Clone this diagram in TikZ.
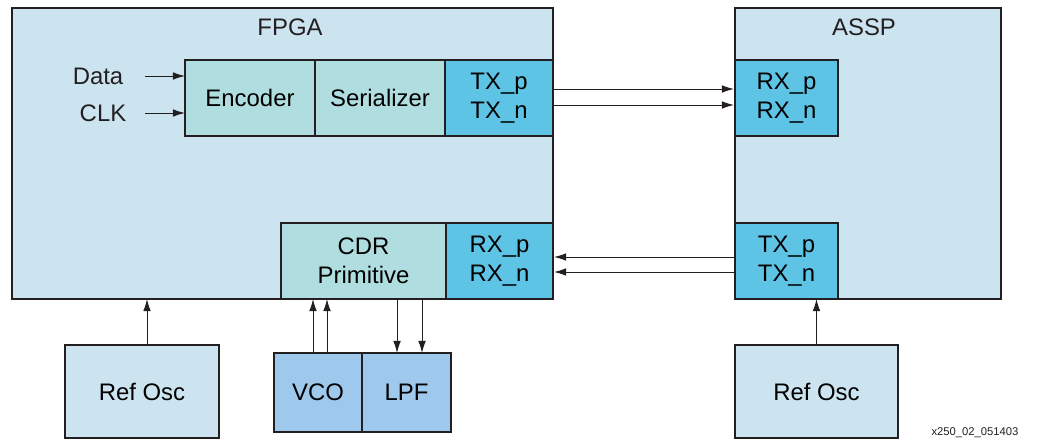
\documentclass[tikz,border=0pt]{standalone}
\usepackage{fontspec}
\setmainfont{Liberation Sans}
\usetikzlibrary{arrows.meta, calc, positioning}
\definecolor{chipbg}{HTML}{CCE4F0}
\definecolor{blkbg}{HTML}{B0DEE0}
\definecolor{portbg}{HTML}{5EC4E6}
\definecolor{pllbg}{HTML}{9EC8EC}
\definecolor{ink}{HTML}{231F20}
\tikzset{
  chip/.style  ={draw=ink, fill=chipbg, line width=1.4pt, inner sep=0pt, outer sep=0pt},
  blk/.style   ={draw=ink, fill=blkbg, line width=1.4pt, minimum height=1.9cm, inner sep=0pt, outer sep=0pt, align=center, font=\fontsize{17}{21}\selectfont},
  port/.style  ={blk, fill=portbg},
  pll/.style   ={blk, fill=pllbg, minimum height=1.975cm},
  osc/.style   ={blk, fill=chipbg, minimum height=2.325cm},
  sig/.style   ={-{Latex[length=3mm,width=1.9mm]}, draw=ink, line width=0.7pt},
  ttl/.style   ={font=\fontsize{17}{21}\selectfont, text=ink, inner sep=0pt},
  tag/.style   ={font=\fontsize{8}{9}\selectfont, text=ink, inner sep=0pt},
}
\begin{document}
\begin{tikzpicture}[x=0.025cm,y=-0.025cm]
  \useasboundingbox (0,0) rectangle (1042,440);
  % chips
  \node[chip, minimum width=13.525cm, minimum height=7.275cm] (fpga) at (282.5,153.5) {};
  \node[chip, minimum width=6.65cm, minimum height=7.275cm] (assp) at (868,153.5) {};
  \node[ttl] (fpgat) at (290,27) {FPGA};
  \node[ttl] (asspt) at (864,27) {ASSP};

  % transmit path
  \node[blk, minimum width=3.25cm] (enc) at (250,98) {Encoder};
  \node[blk, minimum width=3.25cm, right=0pt of enc] (ser) {Serializer};
  \node[port, minimum width=2.7cm, right=0pt of ser] (tx) {TX\_p\\TX\_n};
  \node[port, minimum width=2.575cm] (arx) at (786.5,98) {RX\_p\\RX\_n};

  % receive path
  \node[blk, minimum width=4.125cm] (cdr) at (363.5,261) {CDR\\Primitive};
  \node[port, minimum width=2.675cm, right=0pt of cdr] (rx) {RX\_p\\RX\_n};
  \node[port, minimum width=2.575cm] (atx) at (786.5,261) {TX\_p\\TX\_n};

  % oscillators, VCO, LPF
  \node[osc, minimum width=3.85cm] (refl) at (142,391.5) {Ref Osc};
  \node[osc, minimum width=4.075cm] (refr) at (816.5,391.5) {Ref Osc};
  \node[pll, minimum width=2.2cm] (vco) at (318,392.5) {VCO};
  \node[pll, minimum width=2.225cm, right=0pt of vco] (lpf) {LPF};

  % inputs
  \node[ttl] (data) at (98,76) {Data};
  \node[ttl] (clk) at (103,113) {CLK};
  \coordinate (datas) at (145,76);
  \coordinate (clks) at (145,113);
  \draw[sig] (datas) -- (datas -| enc.west);
  \draw[sig] (clks) -- (clks -| enc.west);

  % serial links
  \draw[sig] ($(tx.east)+(0,-9)$) -- ($(arx.west)+(-1,-9)$);
  \draw[sig] ($(tx.east)+(0,7)$) -- ($(arx.west)+(-1,7)$);
  \draw[sig] ($(atx.west)+(0,-4)$) -- ($(rx.east)+(1,-4)$);
  \draw[sig] ($(atx.west)+(0,11)$) -- ($(rx.east)+(1,11)$);

  % clocks
  \draw[sig] ($(refl.north)+(5,0)$) coordinate (rl) -- (rl |- fpga.south);
  \draw[sig] (refr.north) -- (refr.north |- assp.south);
  \draw[sig] ($(vco.north)+(-5,0)$) coordinate (v1) -- (v1 |- cdr.south);
  \draw[sig] ($(vco.north)+(9,0)$) coordinate (v2) -- (v2 |- cdr.south);
  \draw[sig] ($(lpf.north)+(-9.5,0)$) coordinate (l1) ++(0,-54) -- (l1);
  \draw[sig] ($(lpf.north)+(15.5,0)$) coordinate (l2) ++(0,-54) -- (l2);

  \node[tag] (fig) at (975,433) {x250\_02\_051403};
\end{tikzpicture}
\end{document}
